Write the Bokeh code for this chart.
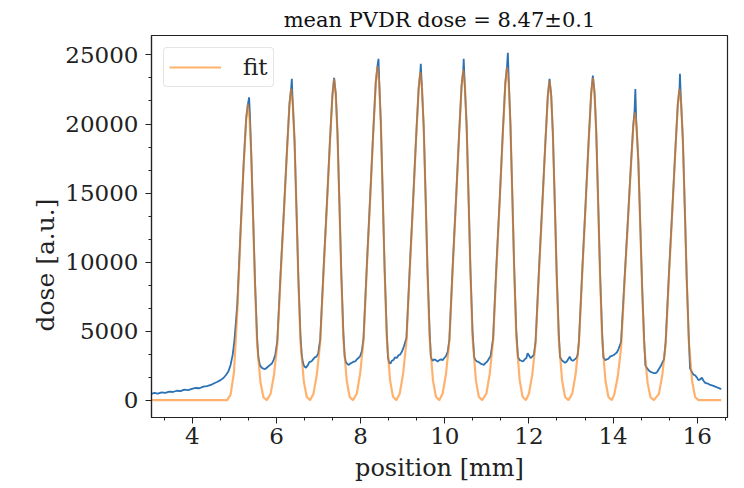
from bokeh.plotting import figure
from bokeh.models import Range1d, FixedTicker, Legend, LegendItem, Title
from bokeh.embed import file_html
from bokeh.resources import INLINE
import numpy as np

# ---------------- data ----------------
title_text = "mean PVDR dose = 8.47\u00b10.1"
x_label = "position [mm]"
y_label = "dose [a.u.]"

x_major_ticks = [4, 6, 8, 10, 12, 14, 16]
y_major_ticks = [0, 5000, 10000, 15000, 20000, 25000]

# measured dose profile (blue)
dose_x = [3.03, 3.10, 3.18, 3.27, 3.36, 3.45, 3.54, 3.63, 3.72, 3.81, 3.90, 3.99, 4.08, 4.17, 4.26, 4.35, 4.44, 4.52, 4.60, 4.67, 4.74, 4.80, 4.86, 4.91, 4.96, 5.00, 5.04,
          5.07, 5.15, 5.22, 5.28, 5.32, 5.35, 5.37, 5.40, 5.45, 5.49, 5.54, 5.57,
          5.61, 5.65, 5.69, 5.73, 5.77, 5.81, 5.85, 5.89, 5.93, 5.97, 6.02,
          6.10, 6.18, 6.25, 6.31, 6.35, 6.365, 6.38, 6.43, 6.48, 6.52, 6.57, 6.60,
          6.63, 6.66, 6.70, 6.74, 6.78, 6.83, 6.87, 6.91, 6.95, 6.99, 7.04,
          7.12, 7.20, 7.27, 7.33, 7.37, 7.41, 7.45, 7.50, 7.54, 7.59, 7.62,
          7.65, 7.69, 7.72, 7.75, 7.79, 7.83, 7.87, 7.91, 7.95, 7.99, 8.03, 8.07,
          8.15, 8.23, 8.30, 8.36, 8.40, 8.425, 8.44, 8.48, 8.53, 8.57, 8.62, 8.65,
          8.68, 8.71, 8.74, 8.78, 8.82, 8.86, 8.90, 8.94, 8.98, 9.03, 9.09,
          9.17, 9.25, 9.32, 9.38, 9.42, 9.43, 9.45, 9.50, 9.55, 9.59, 9.64, 9.67,
          9.71, 9.75, 9.79, 9.83, 9.87, 9.91, 9.95, 9.99, 10.03, 10.07, 10.11,
          10.19, 10.27, 10.34, 10.40, 10.44, 10.45, 10.47, 10.52, 10.57, 10.61, 10.66, 10.70,
          10.73, 10.77, 10.81, 10.85, 10.89, 10.93, 10.97, 11.01, 11.05, 11.09, 11.15,
          11.23, 11.31, 11.38, 11.44, 11.48, 11.50, 11.52, 11.56, 11.61, 11.65, 11.70, 11.74,
          11.78, 11.82, 11.86, 11.90, 11.94, 11.97, 12.00, 12.04, 12.08, 12.12, 12.16,
          12.24, 12.32, 12.39, 12.45, 12.49, 12.53, 12.57, 12.62, 12.66, 12.71, 12.74,
          12.78, 12.82, 12.86, 12.90, 12.94, 12.97, 13.01, 13.05, 13.09, 13.13, 13.16, 13.19,
          13.27, 13.35, 13.42, 13.48, 13.52, 13.56, 13.60, 13.65, 13.69, 13.74, 13.77,
          13.81, 13.85, 13.89, 13.93, 13.97, 14.01, 14.05, 14.09, 14.13, 14.19,
          14.27, 14.35, 14.42, 14.48, 14.51, 14.53, 14.55, 14.60, 14.65, 14.69, 14.74, 14.77,
          14.81, 14.85, 14.89, 14.93, 14.97, 15.01, 15.05, 15.09, 15.13, 15.17, 15.21, 15.25,
          15.33, 15.41, 15.48, 15.54, 15.58, 15.59, 15.61, 15.66, 15.71, 15.75, 15.80, 15.83,
          15.87, 15.91, 15.95, 15.99, 16.03, 16.07, 16.11, 16.15, 16.19, 16.25, 16.31, 16.37, 16.43, 16.49, 16.57]
dose_y = [450, 520, 470, 560, 520, 610, 590, 680, 650, 760, 730, 820, 880, 860, 980, 1020, 1100, 1220, 1330, 1450, 1600, 1820, 2100, 2550, 3300, 4300, 5800,
          7000, 12500, 17100, 20400, 21400, 21930, 20600, 17900, 12800, 8600, 4500, 3100,
          2500, 2350, 2280, 2250, 2350, 2450, 2550, 2650, 2900, 3250, 4300,
          9300, 13900, 18100, 21500, 22600, 23270, 22000, 18800, 13400, 8900, 4700, 3300,
          2700, 2450, 2350, 2500, 2750, 2800, 2950, 3100, 3150, 3350, 4400,
          9500, 14300, 18700, 22100, 23340, 22200, 19400, 13900, 9300, 4900, 3200,
          2750, 2600, 2550, 2650, 2700, 2780, 2800, 2950, 3050, 3200, 3550, 4500,
          9900, 14900, 19400, 23000, 24200, 24720, 23300, 20200, 14400, 9600, 5000, 3100,
          2700, 2650, 2850, 2900, 3100, 3050, 3250, 3300, 3500, 3900, 4500,
          9700, 14600, 19100, 22600, 23800, 24360, 23100, 19800, 14200, 9400, 5000, 3100,
          2850, 2950, 2900, 2800, 2900, 2950, 2900, 3050, 3200, 3500, 4400,
          9800, 14700, 19200, 22800, 23900, 24720, 23200, 19900, 14200, 9500, 5000, 3100,
          2900, 2800, 2750, 2650, 2600, 2550, 2700, 2800, 3000, 3200, 4500,
          9900, 14800, 19400, 23000, 24200, 25150, 23300, 20100, 14400, 9600, 5000, 3100,
          2900, 2850, 2800, 2950, 3050, 3400, 3250, 3050, 3150, 3300, 4300,
          9500, 14300, 18600, 22100, 23270, 22100, 19300, 13800, 9200, 4800, 3100,
          2900, 2800, 2700, 2800, 3000, 3150, 2900, 2850, 2950, 3050, 3300, 4300,
          9500, 14400, 18800, 22200, 23510, 22300, 19500, 13900, 9300, 4900, 3100,
          2900, 2950, 3000, 3150, 3200, 3250, 3350, 3450, 3700, 4200,
          8600, 12900, 16800, 19900, 20900, 22540, 20300, 17400, 12400, 8300, 4300, 2500,
          2300, 2150, 2050, 2000, 1950, 1950, 2050, 2250, 2450, 2700, 2950, 4200,
          9300, 13900, 18100, 21500, 22600, 23630, 22000, 18800, 13400, 8900, 4500, 2300,
          2050, 1850, 1800, 1650, 1450, 1500, 1620, 1400, 1250, 1200, 1100, 1050, 980, 900, 800]

# fitted profile (orange)
fit_x = [3.03, 4.83,
         4.91, 4.99, 5.07, 5.15, 5.22, 5.28, 5.32, 5.36, 5.40, 5.45, 5.49, 5.54, 5.62, 5.69, 5.77,
         5.86, 5.94, 6.02, 6.10, 6.18, 6.25, 6.31, 6.35, 6.39, 6.43, 6.48, 6.52, 6.57, 6.65, 6.72, 6.80,
         6.88, 6.96, 7.04, 7.12, 7.20, 7.27, 7.33, 7.37, 7.41, 7.45, 7.50, 7.54, 7.59, 7.67, 7.74, 7.82,
         7.91, 7.99, 8.07, 8.15, 8.23, 8.30, 8.36, 8.40, 8.44, 8.48, 8.53, 8.57, 8.62, 8.70, 8.77, 8.85,
         8.93, 9.01, 9.09, 9.17, 9.25, 9.32, 9.38, 9.42, 9.46, 9.50, 9.55, 9.59, 9.64, 9.72, 9.79, 9.87,
         9.95, 10.03, 10.11, 10.19, 10.27, 10.34, 10.40, 10.44, 10.48, 10.52, 10.57, 10.61, 10.66, 10.74, 10.81, 10.89,
         10.99, 11.07, 11.15, 11.23, 11.31, 11.38, 11.44, 11.48, 11.52, 11.56, 11.61, 11.65, 11.70, 11.78, 11.85, 11.93,
         12.00, 12.08, 12.16, 12.24, 12.32, 12.39, 12.45, 12.49, 12.53, 12.57, 12.62, 12.66, 12.71, 12.79, 12.86, 12.94,
         13.03, 13.11, 13.19, 13.27, 13.35, 13.42, 13.48, 13.52, 13.56, 13.60, 13.65, 13.69, 13.74, 13.82, 13.89, 13.97,
         14.03, 14.11, 14.19, 14.27, 14.35, 14.42, 14.48, 14.52, 14.56, 14.60, 14.65, 14.69, 14.74, 14.82, 14.89, 14.97,
         15.09, 15.17, 15.25, 15.33, 15.41, 15.48, 15.54, 15.58, 15.62, 15.66, 15.71, 15.75, 15.80, 15.88, 15.95, 16.03,
         16.57]
fit_y = [0, 0,
         400, 2000, 6500, 12300, 17000, 20300, 21450, 20380, 17800, 12660, 8370, 4080, 1290, 210, 0,
         450, 1800, 4060, 9020, 13750, 18030, 21410, 22540, 21410, 18710, 13300, 8790, 4280, 1350, 230, 0,
         470, 1860, 4190, 9300, 14180, 18600, 22090, 23250, 22090, 19300, 13720, 9070, 4420, 1400, 230, 0,
         480, 1940, 4360, 9680, 14760, 19360, 22990, 24200, 22990, 20090, 14280, 9440, 4600, 1450, 240, 0,
         480, 1900, 4280, 9500, 14490, 19000, 22560, 23750, 22560, 19710, 14010, 9260, 4510, 1430, 240, 0,
         480, 1910, 4300, 9560, 14580, 19120, 22710, 23900, 22710, 19840, 14100, 9320, 4540, 1430, 240, 0,
         480, 1930, 4340, 9640, 14700, 19280, 22900, 24100, 22900, 20000, 14220, 9400, 4580, 1450, 240, 0,
         460, 1850, 4170, 9260, 14120, 18520, 21990, 23150, 21990, 19210, 13660, 9030, 4400, 1390, 230, 0,
         470, 1870, 4200, 9340, 14240, 18680, 22180, 23350, 22180, 19380, 13780, 9110, 4440, 1400, 230, 0,
         420, 1670, 3750, 8340, 12720, 16680, 19810, 20850, 19810, 17310, 12300, 8130, 3960, 1250, 210, 0,
         450, 1800, 4060, 9020, 13760, 18040, 21420, 22550, 21420, 18720, 13300, 8790, 4280, 1350, 230, 0,
         0]

# ---------------- figure ----------------
SERIF = "DejaVu Serif"
INK = "#222222"

p = figure(width=729, height=485,
           x_range=Range1d(3.03, 16.72), y_range=Range1d(-1258, 26410),
           output_backend="svg", toolbar_location=None,
           min_border_left=151, min_border_right=2,
           min_border_top=35, min_border_bottom=68,
           title=title_text)

p.background_fill_color = "white"
p.border_fill_color = "white"
p.outline_line_color = INK
p.outline_line_width = 1.2
p.xgrid.visible = False
p.ygrid.visible = False

p.title.text_font = SERIF
p.title.text_font_size = "21px"
p.title.text_font_style = "normal"
p.title.align = "center"
p.title.text_color = "#111111"
p.title.standoff = 7
p.title.offset = 0

blue = p.line(dose_x, dose_y, line_color="#2a72b5", line_width=1.8)
fit = p.line(fit_x, fit_y, line_color="#ff7f0e", line_alpha=0.6, line_width=2.2)

x_minor = [v for v in np.arange(3 + 1/3, 17, 2/3) if min(abs(v - t) for t in x_major_ticks) > 1e-6]
y_minor = [v for v in np.arange(0, 26410, 5000/3) if min(abs(v - t) for t in y_major_ticks) > 1e-3]

p.xaxis.ticker = FixedTicker(ticks=x_major_ticks, minor_ticks=x_minor)
p.yaxis.ticker = FixedTicker(ticks=y_major_ticks, minor_ticks=y_minor)

for ax in (p.xaxis[0], p.yaxis[0]):
    ax.axis_line_color = INK
    ax.axis_line_width = 1.2
    ax.major_tick_line_color = INK
    ax.minor_tick_line_color = INK
    ax.major_tick_out = 6
    ax.major_tick_in = 0
    ax.minor_tick_out = 3
    ax.minor_tick_in = 0
    ax.major_label_text_font = SERIF
    ax.major_label_text_font_size = "23px"
    ax.major_label_text_color = INK
    ax.axis_label_text_font = SERIF
    ax.axis_label_text_font_size = "24px"
    ax.axis_label_text_font_style = "normal"
    ax.axis_label_text_color = INK

p.xaxis.axis_label = x_label
p.xaxis.major_label_standoff = 4
p.xaxis.axis_label_standoff = 7
p.yaxis.major_label_standoff = 7

# y-axis label as a side title, anchored from the bottom so it sits below the axis centre
ytitle = Title(text=y_label, align="left", offset=86,
               text_font=SERIF, text_font_size="25px", text_font_style="normal",
               text_color=INK, standoff=5)
p.add_layout(ytitle, "left")

legend = Legend(items=[LegendItem(label="fit", renderers=[fit])],
                location="top_left")
legend.label_text_font = SERIF
legend.label_text_font_size = "23px"
legend.label_text_color = INK
legend.glyph_width = 52
legend.glyph_height = 28
legend.label_height = 28
legend.label_standoff = 22
legend.padding = 5
legend.margin = 12
legend.border_line_color = "#cccccc"
legend.border_line_width = 1
legend.background_fill_color = "white"
legend.background_fill_alpha = 0.8
if "border_radius" in legend.properties():
    legend.border_radius = 4
p.add_layout(legend)

open("out.html", "w").write(file_html(p, INLINE))
